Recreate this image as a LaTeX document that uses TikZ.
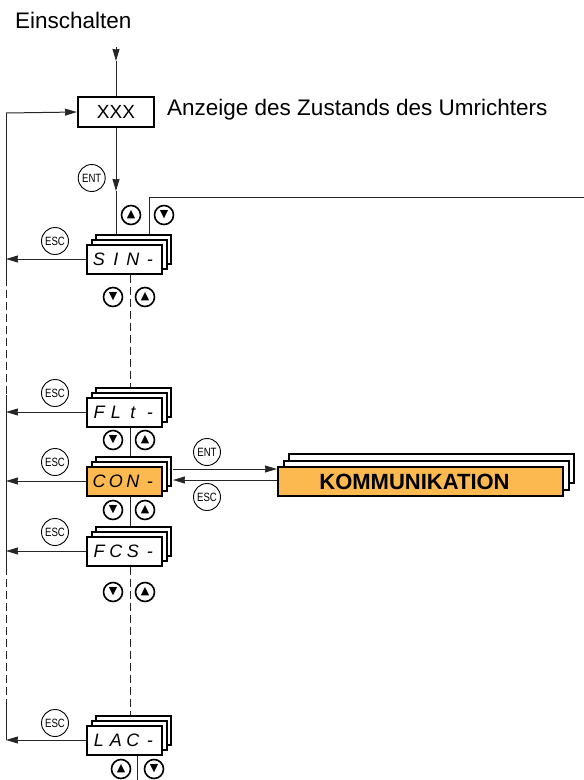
\documentclass[tikz,border=0pt]{standalone}
\usepackage{fontspec}
\setmainfont{Liberation Sans}
\newfontfamily\symf{DejaVu Sans}
\newfontfamily\condf[FakeStretch=0.8]{Liberation Sans}
\usetikzlibrary{arrows.meta}
\definecolor{orng}{RGB}{252,185,80}
\tikzset{
  ln/.style={line width=1pt, draw=black!85},
  arr/.style={ln, -{Stealth[length=12pt,width=7pt,inset=0.5pt]}},
  dsh/.style={ln, dash pattern=on 8pt off 4pt},
  lcd/.style={draw, line width=2pt, fill=white, minimum width=75pt, minimum height=29pt, inner sep=0pt, font=\fontsize{18}{18}\selectfont\itshape},
  kbox/.style={draw, line width=2pt, fill=white, minimum width=285pt, minimum height=29pt, inner sep=0pt},
  keybtn/.style={circle, draw, line width=1.6pt, minimum size=19pt, inner sep=0pt, font=\symf\fontsize{11}{11}\selectfont},
  txtbtn/.style={circle, draw, line width=0.9pt, minimum size=27pt, inner sep=0pt, font=\condf\fontsize{12}{12}\selectfont},
}
\newcommand\segtxt[4]{\makebox[17pt]{#1}\makebox[17pt]{#2}\makebox[17pt]{#3}\makebox[17pt]{#4}}
\newcommand\lcdstack[5]{%
  \node[lcd] (#1b) at ({#2+9},{#3-10}) {};
  \node[lcd] (#1m) at ({#2+4.5},{#3-5}) {};
  \node[lcd,#5] (#1) at (#2,#3) {#4};
}
\begin{document}
\begin{tikzpicture}[x=1pt,y=-1pt]
\useasboundingbox (0,0) rectangle (584,780);

% header
\node[anchor=base west, inner sep=0pt, font=\fontsize{22.5}{22.5}\selectfont] (ein) at (15,28) {Einschalten};
\node[draw, line width=2.2pt, minimum width=76pt, minimum height=30pt, inner sep=0pt, font=\fontsize{19}{19}\selectfont] (xxx) at (116,112) {XXX};
\node[anchor=base west, inner sep=0pt, font=\fontsize{22.5}{22.5}\selectfont] (anz) at (167,115) {Anzeige des Zustands des Umrichters};

% menu stacks
\lcdstack{sin}{124.5}{259}{\segtxt{S}{I}{N}{-}}{}
\lcdstack{flt}{124.5}{412}{\segtxt{F}{L}{t}{-}}{}
\lcdstack{con}{124.5}{481}{\segtxt{C}{O}{N}{-}}{fill=orng}
\lcdstack{fcs}{124.5}{551}{\segtxt{F}{C}{S}{-}}{}
\lcdstack{lac}{124.5}{740}{\segtxt{L}{A}{C}{-}}{}

% Kommunikation stack
\node[kbox] (kommb) at (431.5,468.5) {};
\node[kbox] (kommm) at (426,475) {};
\node[kbox, fill=orng, font=\bfseries\fontsize{22}{22}\selectfont] (komm) at (420.5,481.5) {KOMMUNIKATION\hspace*{12pt}};

% coordinates
\coordinate (e0) at (116,47);
\coordinate (e1) at (116,61);
\coordinate (ent1) at (116,191);
\coordinate (tl) at (149,197);
\coordinate (tr) at (584,197);
\coordinate (L0) at (6,113);
\coordinate (L1) at (6,278);
\coordinate (L2) at (6,395);
\coordinate (L3) at (6,567);
\coordinate (L4) at (6,703);
\coordinate (cx) at (130,0);
\coordinate (bx) at (137,780);
\coordinate (entA) at (173,469);
\coordinate (escA) at (173,480);

% top connectors
\draw[arr] (e0) -- (e1);
\draw[ln] (e1) -- (xxx.north);
\draw[arr] (xxx.south) -- (ent1);
\draw[ln] (ent1) -- (sinb.north -| xxx.south);
\draw[ln] (sinb.north -| tl) -- (tl) -- (tr);

% left return line
\draw[arr] (L0) -- (xxx.west);
\draw[ln] (L0) -- (L1);
\draw[dsh] (L1) -- (L2);
\draw[ln] (L2) -- (L3);
\draw[dsh] (L3) -- (L4);
\draw[ln] (L4) -- (lac.west -| L0);

% esc arrows
\draw[arr] (sin.west) -- (sin.west -| L0);
\draw[arr] (flt.west) -- (flt.west -| L0);
\draw[arr] (con.west) -- (con.west -| L0);
\draw[arr] (fcs.west) -- (fcs.west -| L0);
\draw[arr] (lac.west) -- (lac.west -| L0);

% centre line
\draw[dsh] (sin.south -| cx) -- (fltb.north -| cx);
\draw[ln] (flt.south -| cx) -- (conb.north -| cx);
\draw[ln] (con.south -| cx) -- (fcsb.north -| cx);
\draw[dsh] (fcs.south -| cx) -- (lacb.north -| cx);
\draw[ln] (lac.south -| bx) -- (bx);

% Kommunikation arrows
\draw[arr] (entA) -- (entA -| komm.west);
\draw[arr] (escA -| komm.west) -- (escA);

% text buttons
\node[txtbtn] (ent0) at (91.7,178) {ENT};
\node[txtbtn] (esc0) at (55,241) {ESC};
\node[txtbtn] (esc1) at (55,393) {ESC};
\node[txtbtn] (esc2) at (55,462) {ESC};
\node[txtbtn] (esc3) at (55,532) {ESC};
\node[txtbtn] (esc4) at (55,723) {ESC};
\node[txtbtn] (entk) at (207,452) {ENT};
\node[txtbtn] (esck) at (207,497) {ESC};

% arrow buttons
\node[keybtn] (u0) at (131,215) {▲};
\node[keybtn] (d0) at (164,215) {▼};
\node[keybtn] (d1) at (113,297) {▼};
\node[keybtn] (u1) at (145,297) {▲};
\node[keybtn] (d2) at (113,440) {▼};
\node[keybtn] (u2) at (145,440) {▲};
\node[keybtn] (d3) at (113,510) {▼};
\node[keybtn] (u3) at (145,510) {▲};
\node[keybtn] (d4) at (113,592) {▼};
\node[keybtn] (u4) at (145,592) {▲};
\node[keybtn] (u5) at (121,769) {▲};
\node[keybtn] (d5) at (154,769) {▼};
\end{tikzpicture}
\end{document}
